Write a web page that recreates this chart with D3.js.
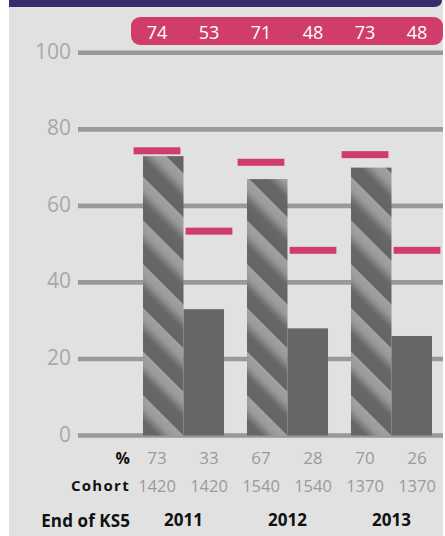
<!DOCTYPE html>
<html>
<head>
<meta charset="utf-8">
<script src="https://cdn.jsdelivr.net/npm/d3@7"></script>
<style>
  html, body { margin: 0; padding: 0; background: #ffffff; }
  svg { display: block; font-family: "Open Sans", "Noto Sans", sans-serif; }
</style>
</head>
<body>
<svg id="chart" width="445" height="536"></svg>
<script>
// ---- data ----
const years = ["2011", "2012", "2013"];
const series1 = [73, 67, 70];          // hatched bars
const series2 = [33, 28, 26];          // solid bars
const targets = [74, 53, 71, 48, 73, 48];  // pink markers / top labels
const pctLabels = [73, 33, 67, 28, 70, 26];
const cohorts = [1420, 1420, 1540, 1540, 1370, 1370];
const yTicks = [0, 20, 40, 60, 80, 100];
const columns = ["2011a", "2011b", "2012a", "2012b", "2013a", "2013b"];

// ---- setup ----
const W = 445, H = 536;
const svg = d3.select("#chart");
const bgColor = "#e1e1e1", gridColor = "#999999", pink = "#d13d6a",
      purple = "#352c6e", dark = "#666666";

const y = d3.scaleLinear().domain([0, 100]).range([435.5, 52.8]);
const xYear = d3.scaleBand().domain(years).range([143, 432]).paddingInner(0.221).paddingOuter(0);
const xCol = d3.scaleBand().domain(columns).range([131, 443]).paddingInner(0.1).paddingOuter(0.05);

// defs: stripe pattern
const defs = svg.append("defs");
const grad = defs.append("linearGradient").attr("id", "stripeGrad")
  .attr("x1", 0).attr("y1", 0).attr("x2", 0).attr("y2", 1);
[[0, "#a2a2a2"], [0.28, "#999999"], [0.58, "#676767"], [1, "#646464"]].forEach(([o, c]) =>
  grad.append("stop").attr("offset", o).attr("stop-color", c));
const period = 30.9;
const pat = defs.append("pattern").attr("id", "hatch")
  .attr("patternUnits", "userSpaceOnUse")
  .attr("width", 20).attr("height", period)
  .attr("patternTransform", "rotate(45) translate(0,2.3)");
pat.append("rect").attr("width", 20).attr("height", period).attr("fill", "url(#stripeGrad)");

// background
svg.append("rect").attr("x", 9).attr("y", 0).attr("width", 434).attr("height", H).attr("fill", bgColor);
// top band
svg.append("path")
  .attr("d", "M9,0 H442 V0 Q442,7 434,7 H9 Z")
  .attr("fill", purple);

// grid lines
svg.append("g").selectAll("line").data(yTicks).join("line")
  .attr("x1", 78).attr("x2", 443)
  .attr("y1", d => y(d)).attr("y2", d => y(d))
  .attr("stroke", gridColor).attr("stroke-width", 4.6);

// y tick labels
svg.append("g").selectAll("text").data(yTicks).join("text")
  .attr("x", 71).attr("y", d => y(d) + 6)
  .attr("text-anchor", "end")
  .attr("font-size", 21).attr("font-weight", 400)
  .attr("fill", "#a8a8a8")
  .text(d => d);

// bars
const bw = xYear.bandwidth() / 2;
const barG = svg.append("g");
years.forEach((yr, i) => {
  const x0 = xYear(yr);
  const g = barG.append("g").attr("transform", `translate(${x0},${y(0)})`);
  g.append("rect")
    .attr("x", 0).attr("y", y(series1[i]) - y(0))
    .attr("width", bw).attr("height", y(0) - y(series1[i]))
    .attr("fill", "url(#hatch)");
  barG.append("rect")
    .attr("x", x0 + bw).attr("y", y(series2[i]))
    .attr("width", bw).attr("height", y(0) - y(series2[i]))
    .attr("fill", dark);
});

// target markers
svg.append("g").selectAll("rect").data(columns).join("rect")
  .attr("x", d => xCol(d)).attr("width", xCol.bandwidth())
  .attr("y", (d, i) => y(targets[i]) - 5).attr("height", 7)
  .attr("fill", pink);

// top pink label box
const [c0, c1] = xCol.range();
svg.append("rect").attr("x", c0).attr("y", 17).attr("width", c1 - c0).attr("height", 28)
  .attr("rx", 9).attr("fill", pink);
svg.append("g").selectAll("text").data(columns).join("text")
  .attr("x", d => xCol(d) + xCol.bandwidth() / 2).attr("y", 38.5)
  .attr("text-anchor", "middle").attr("font-size", 18).attr("fill", "#ffffff")
  .text((d, i) => targets[i]);

// bottom rows
svg.append("text").attr("x", 130).attr("y", 464).attr("text-anchor", "end")
  .attr("font-size", 16).attr("font-weight", 700).attr("fill", "#111").text("%");
svg.append("g").selectAll("text").data(columns).join("text")
  .attr("x", d => xCol(d) + xCol.bandwidth() / 2).attr("y", 464)
  .attr("text-anchor", "middle").attr("font-size", 17).attr("fill", "#9a9a9a")
  .text((d, i) => pctLabels[i]);

svg.append("text").attr("x", 130).attr("y", 491).attr("text-anchor", "end")
  .attr("font-size", 15).attr("font-weight", 700).attr("letter-spacing", 1.3)
  .attr("fill", "#111").text("Cohort");
svg.append("g").selectAll("text").data(columns).join("text")
  .attr("x", d => xCol(d) + xCol.bandwidth() / 2).attr("y", 491.5)
  .attr("text-anchor", "middle").attr("font-size", 16.5).attr("fill", "#9a9a9a")
  .text((d, i) => cohorts[i]);

svg.append("text").attr("x", 130).attr("y", 527).attr("text-anchor", "end")
  .attr("font-size", 17).attr("font-weight", 700).attr("letter-spacing", 0.1)
  .attr("fill", "#111").text("End of KS5");
svg.append("g").selectAll("text").data(years).join("text")
  .attr("x", d => xYear(d) + xYear.bandwidth() / 2).attr("y", 526)
  .attr("text-anchor", "middle").attr("font-size", 17).attr("font-weight", 700)
  .attr("fill", "#111").text(d => d);
</script>
</body>
</html>
